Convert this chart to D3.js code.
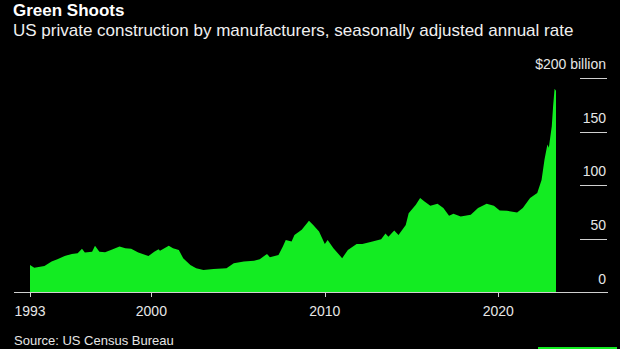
<!DOCTYPE html>
<html>
<head>
<meta charset="utf-8">
<script src="https://cdn.jsdelivr.net/npm/d3@7"></script>
<style>
  html, body { margin: 0; padding: 0; background: #000; }
  svg { display: block; font-family: "Liberation Sans", Arial, sans-serif; }
</style>
</head>
<body>
<svg width="620" height="349"></svg>
<script>
/* Monthly readings of the series, billions of dollars (SAAR) */
const MONTHS = [
    '1993-01', '1993-04', '1993-11', '1994-04', '1994-08', '1995-01', '1995-06', '1995-10',
    '1996-01', '1996-03', '1996-08', '1996-10', '1997-01', '1997-05', '1997-09', '1998-03',
    '1998-07', '1998-11', '1999-04', '1999-11', '2000-03', '2000-06', '2000-07', '2001-01',
    '2001-04', '2001-08', '2001-11', '2002-04', '2002-08', '2003-01', '2003-08', '2004-05',
    '2004-10', '2005-05', '2005-12', '2006-04', '2006-09', '2006-11', '2007-05', '2007-08',
    '2007-10', '2008-02', '2008-04', '2008-09', '2009-02', '2009-05', '2009-09', '2010-01',
    '2010-03', '2010-07', '2011-01', '2011-05', '2011-11', '2012-03', '2012-10', '2013-04',
    '2013-07', '2013-09', '2014-01', '2014-04', '2014-09', '2014-11', '2015-04', '2015-07',
    '2015-10', '2016-02', '2016-07', '2016-11', '2017-03', '2017-06', '2017-11', '2018-06',
    '2018-11', '2019-05', '2019-10', '2020-02', '2020-07', '2021-02', '2021-06', '2021-11',
    '2022-04', '2022-07', '2022-09', '2022-11', '2022-12', '2023-02', '2023-03', '2023-04',
    '2023-05'
];
const VALUES = [
    25.7, 23, 24.8, 28.8, 31, 34, 36, 36.6,
    40.7, 37.2, 38, 43.5, 38, 37.5, 39.7, 42.8,
    41.3, 40.7, 37.2, 34, 38, 40.4, 39, 43.5,
    41.3, 39.7, 32, 25.7, 22.6, 21, 22, 22.6,
    27.3, 28.8, 29.7, 31, 36, 32.9, 35, 42.8,
    49, 47.5, 53.7, 58.4, 67, 63, 56.8, 45.3,
    49, 41.3, 32, 39.7, 45.3, 45.3, 47.5, 49.7,
    55, 52, 57.8, 53.7, 63, 74, 81.8, 88,
    84.9, 80.8, 82.7, 78.7, 71.5, 73.4, 70.9, 72.4,
    78.7, 82.7, 80.8, 76.5, 76.2, 74.6, 78.7, 88,
    92.7, 105, 124, 138, 135, 155, 173.6, 190,
    188
];
const X_TICKS = [1993, 2000, 2010, 2020];
const Y_TICKS = [0, 50, 100, 150, 200];

const parseMonth = d3.timeParse('%Y-%m');
const DATA = MONTHS.map((m, i) => ({date: parseMonth(m), value: VALUES[i]}));

const GREEN = '#13ec22';
const AXIS = '#d0d0d0';

const svg = d3.select('svg');

/* scales */
const xScale = d3.scaleTime()
    .domain([parseMonth('1993-01'), parseMonth('2023-05')])
    .range([30, 556]);

const yScale = d3.scaleLinear()
    .domain([0, 200])
    .range([292.5, 78]);

/* the filled area */
const area = d3.area()
    .x(d => xScale(d.date))
    .y0(yScale(0))
    .y1(d => yScale(d.value));

svg.append('path')
    .datum(DATA)
    .attr('d', area)
    .attr('fill', GREEN);

/* short gridlines and labels on the right */
const yAxis = svg.append('g');
yAxis.selectAll('line')
    .data(Y_TICKS.filter(t => t > 0))
    .enter()
    .append('line')
    .attr('x1', 580).attr('x2', 607)
    .attr('y1', d => Math.round(yScale(d)) + 0.5)
    .attr('y2', d => Math.round(yScale(d)) + 0.5)
    .attr('stroke', AXIS);

yAxis.selectAll('text')
    .data(Y_TICKS)
    .enter()
    .append('text')
    .attr('x', 606)
    .attr('y', d => yScale(d) - 9)
    .attr('text-anchor', 'end')
    .attr('fill', '#e6e6e6')
    .style('font-size', '14px')
    .text(d => d === 200 ? '$200 billion' : d);

/* bottom axis */
svg.append('line')
    .attr('x1', 14).attr('x2', 608)
    .attr('y1', 292.5).attr('y2', 292.5)
    .attr('stroke', AXIS);

const xAxis = svg.append('g');
xAxis.selectAll('line')
    .data(X_TICKS)
    .enter()
    .append('line')
    .attr('x1', d => Math.round(xScale(new Date(d, 0, 1))) + 0.5)
    .attr('x2', d => Math.round(xScale(new Date(d, 0, 1))) + 0.5)
    .attr('y1', 292.5).attr('y2', 297)
    .attr('stroke', AXIS);

xAxis.selectAll('text')
    .data(X_TICKS)
    .enter()
    .append('text')
    .attr('x', d => xScale(new Date(d, 0, 1)))
    .attr('y', 316)
    .attr('text-anchor', 'middle')
    .attr('fill', '#e6e6e6')
    .style('font-size', '14px')
    .text(d => d);

/* titles */
svg.append('text')
    .attr('x', 13).attr('y', 16)
    .attr('fill', '#fff')
    .style('font-size', '17px')
    .style('font-weight', 'bold')
    .text('Green Shoots');

svg.append('text')
    .attr('x', 13).attr('y', 35.5)
    .attr('fill', '#f0f0f0')
    .style('font-size', '17px')
    .text('US private construction by manufacturers, seasonally adjusted annual rate');

svg.append('text')
    .attr('x', 14).attr('y', 345)
    .attr('fill', '#e6e6e6')
    .style('font-size', '13px')
    .text('Source: US Census Bureau');

/* green strip bottom right */
svg.append('rect')
    .attr('x', 538).attr('y', 347)
    .attr('width', 79).attr('height', 2)
    .attr('fill', GREEN);
</script>
</body>
</html>
